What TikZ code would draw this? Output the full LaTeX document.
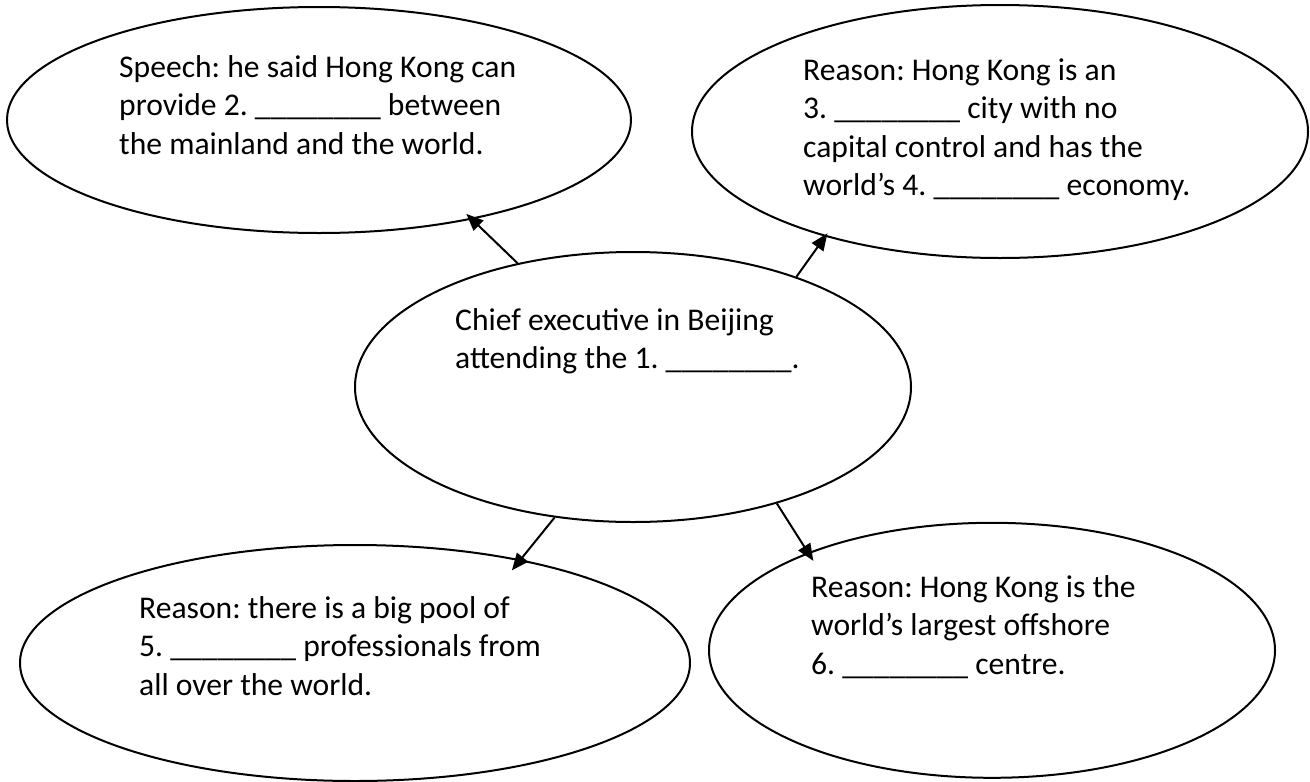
\documentclass[tikz,border=0pt]{standalone}
\usepackage{fontspec}
\setmainfont{Carlito}
\usetikzlibrary{arrows.meta,shapes.geometric}
\newcommand{\blank}{\_\_\_\_\_\_\_\_}
\frenchspacing
\begin{document}
\begin{tikzpicture}[x=1pt,y=-1pt,
  bubble/.style={draw=black, line width=2pt, ellipse, inner sep=0pt},
  txt/.style={anchor=base west, inner sep=0pt, font=\fontsize{31.6}{38.6}\selectfont},
  link/.style={line width=2pt, -{Triangle[length=17pt,width=14pt]}}]
\useasboundingbox[fill=white] (0,0) rectangle (1310,782);
% bubbles
\node[bubble, minimum width=624pt, minimum height=226pt] (tl) at (319,120) {};
\node[bubble, minimum width=616pt, minimum height=253pt] (tr) at (1000,131.5) {};
\node[bubble, minimum width=556pt, minimum height=270pt] (c) at (633,387) {};
\node[bubble, minimum width=670pt, minimum height=236pt] (bl) at (355,663) {};
\node[bubble, minimum width=566pt, minimum height=255pt] (br) at (992,650.3) {};
% texts
\node[txt] (tlt) at (119,77) {\vtop{\hbox{Speech: he said Hong Kong can}\hbox{provide 2. \blank{} between}\hbox{the mainland and the world.}}};
\node[txt] (trt) at (803,80) {\vtop{\hbox{Reason: Hong Kong is an}\hbox{3. \blank{} city with no}\hbox{capital control and has the}\hbox{world’s 4. \blank{} economy.}}};
\node[txt] (ct) at (455,330) {\vtop{\hbox{Chief executive in Beijing}\hbox{attending the 1. \blank.}}};
\node[txt] (blt) at (139,618) {\vtop{\hbox{Reason: there is a big pool of}\hbox{5. \blank{} professionals from}\hbox{all over the world.}}};
\node[txt] (brt) at (811,597) {\vtop{\hbox{Reason: Hong Kong is the}\hbox{world’s largest offshore}\hbox{6. \blank{} centre.}}};
% links
\draw[link, shorten >=-8pt] (c.133.7) -- (tl.-33.3);
\draw[link, shorten >=-4pt] (c.34.6) -- (tr.211.8);
\draw[link, shorten >=-14pt] (c.-121.7) -- (bl.32.4);
\draw[link, shorten >=-10pt] (c.-39.8) -- (br.152.5);
\end{tikzpicture}
\end{document}
